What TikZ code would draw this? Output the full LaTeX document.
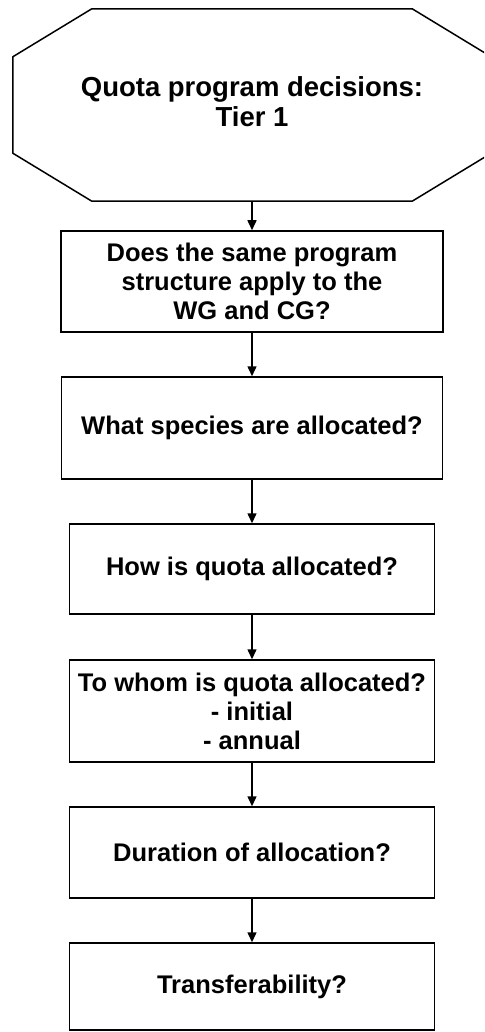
\documentclass[tikz,border=0pt]{standalone}
\usepackage{fontspec}
\setmainfont{Liberation Sans}
\usetikzlibrary{calc,arrows.meta}
\begin{document}
\begin{tikzpicture}[x=1pt,y=-1pt,
  qbox/.style={draw, line width=1.5pt, inner sep=0pt, align=center,
    font=\bfseries\fontsize{25.5}{29}\selectfont},
  octtext/.style={inner sep=0pt, align=center,
    font=\bfseries\fontsize{27.5}{30}\selectfont},
  outline/.style={line width=1.5pt, line join=miter},
  flow/.style={-{Triangle[length=10pt,width=9pt]}, line width=1.5pt}]
\useasboundingbox (0,0) rectangle (484,1032);
\clip (0,0) rectangle (484,1032);
\node[inner sep=0pt, minimum width=478pt, minimum height=192pt] (oct) at (252,105) {};
\node[octtext] (octlabel) at (252,102) {Quota program decisions:\\Tier 1};
\draw[outline] ($(oct.north west)+(79,0)$) -- ($(oct.north east)+(-79,0)$)
  -- ($(oct.north east)+(0,48)$) -- ($(oct.south east)+(0,-48)$)
  -- ($(oct.south east)+(-79,0)$) -- ($(oct.south west)+(79,0)$)
  -- ($(oct.south west)+(0,-48)$) -- ($(oct.north west)+(0,48)$) -- cycle;
\node[qbox, minimum width=382pt, minimum height=101pt] (b1) at (252,281.5)
  {Does the same program\\structure apply to the\\WG and CG?};
\node[qbox, minimum width=381pt, minimum height=102pt] (b2) at (252,428)
  {What species are allocated?};
\node[qbox, minimum width=365pt, minimum height=90pt] (b3) at (252,569)
  {How is quota allocated?};
\node[qbox, minimum width=365pt, minimum height=102pt] (b4) at (252,711)
  {To whom is quota allocated?\\- initial\\- annual};
\node[qbox, minimum width=365pt, minimum height=91pt] (b5) at (252,852.5)
  {Duration of allocation?};
\node[qbox, minimum width=365pt, minimum height=87pt] (b6) at (252,986.5)
  {Transferability?};
\draw[flow] (oct.south) -- (b1.north);
\draw[flow] (b1.south) -- (b2.north);
\draw[flow] (b2.south) -- (b3.north);
\draw[flow] (b3.south) -- (b4.north);
\draw[flow] (b4.south) -- (b5.north);
\draw[flow] (b5.south) -- (b6.north);
\end{tikzpicture}
\end{document}
